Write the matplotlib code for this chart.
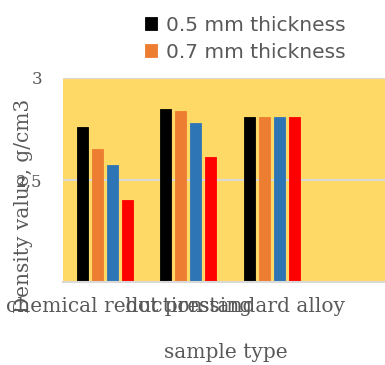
import matplotlib
matplotlib.use("Agg")
import matplotlib.pyplot as plt
import numpy as np

# Sample types and measured density per plate thickness
categories = ["chemical reduction", "hot pressing", "standard alloy"]
thick_05 = [2.76, 2.85, 2.81]
thick_07 = [2.65, 2.84, 2.81]
series_blue = [2.575, 2.78, 2.81]
series_red = [2.40, 2.615, 2.81]
legend_labels = ["0.5 mm thickness", "0.7 mm thickness"]
ytick_values = [2.5, 3.0]
ytick_labels = ["2,5", "3"]

W, H = 385, 365
fig = plt.figure(figsize=(W / 100, H / 100), dpi=100)
ax = fig.add_axes([63 / W, (H - 282) / H, (W - 63) / W, 204 / H])
ax.set_facecolor("#FFD966")

text_grey = "#595959"
serif = ["DejaVu Serif"]

x = np.arange(len(categories))
pitch = 0.18
width = 0.132
series = [thick_05, thick_07, series_blue, series_red]
colors = ["#000000", "#ED7D31", "#2E75B6", "#FF0000"]
labels = legend_labels + ["_nolegend_", "_nolegend_"]
handles = []
for i, (vals, col, lab) in enumerate(zip(series, colors, labels)):
    b = ax.bar(x + (i - 1.5) * pitch, vals, width=width, color=col,
               label=lab, zorder=3, edgecolor=col, linewidth=0.6)
    handles.append(b)

ax.set_ylim(2.0, 3.0)
ax.set_xlim(-0.5, -0.5 + (W - 63) / 83.5)

ax.set_yticks(ytick_values)
ax.set_yticklabels(ytick_labels, family=serif, fontsize=12, color=text_grey)
ax.tick_params(axis="y", length=0, pad=15)
ax.set_xticks(x)
ax.set_xticklabels(categories, family=serif, fontsize=14.5, color=text_grey)
ax.tick_params(axis="x", length=0, pad=11)

ax.grid(axis="y", color="#D9D9D9", linewidth=1.5, zorder=1)
ax.set_axisbelow(True)
for s in ["left", "right", "top"]:
    ax.spines[s].set_visible(False)
ax.spines["bottom"].set_color("#D9D9D9")
ax.spines["bottom"].set_linewidth(1.5)
ax.spines["bottom"].set_zorder(4)

fig.text(24 / W, 1 - 206 / H, "Density value, g/cm3", rotation=90,
         ha="center", va="center", family=serif, fontsize=14.5, color=text_grey)
fig.text(226 / W, 1 - 352 / H, "sample type", ha="center", va="center",
         family=serif, fontsize=14.5, color=text_grey)

fig.legend(handles=handles[:2], labels=legend_labels, loc="upper left",
           bbox_to_anchor=(145 / W, 1 - 16 / H), frameon=False,
           prop={"family": "DejaVu Sans", "size": 14.5},
           labelcolor=text_grey, handlelength=0.62, handleheight=0.62,
           handletextpad=0.4, labelspacing=0.38, borderpad=0,
           borderaxespad=0)

fig.savefig("out.png", dpi=100)
